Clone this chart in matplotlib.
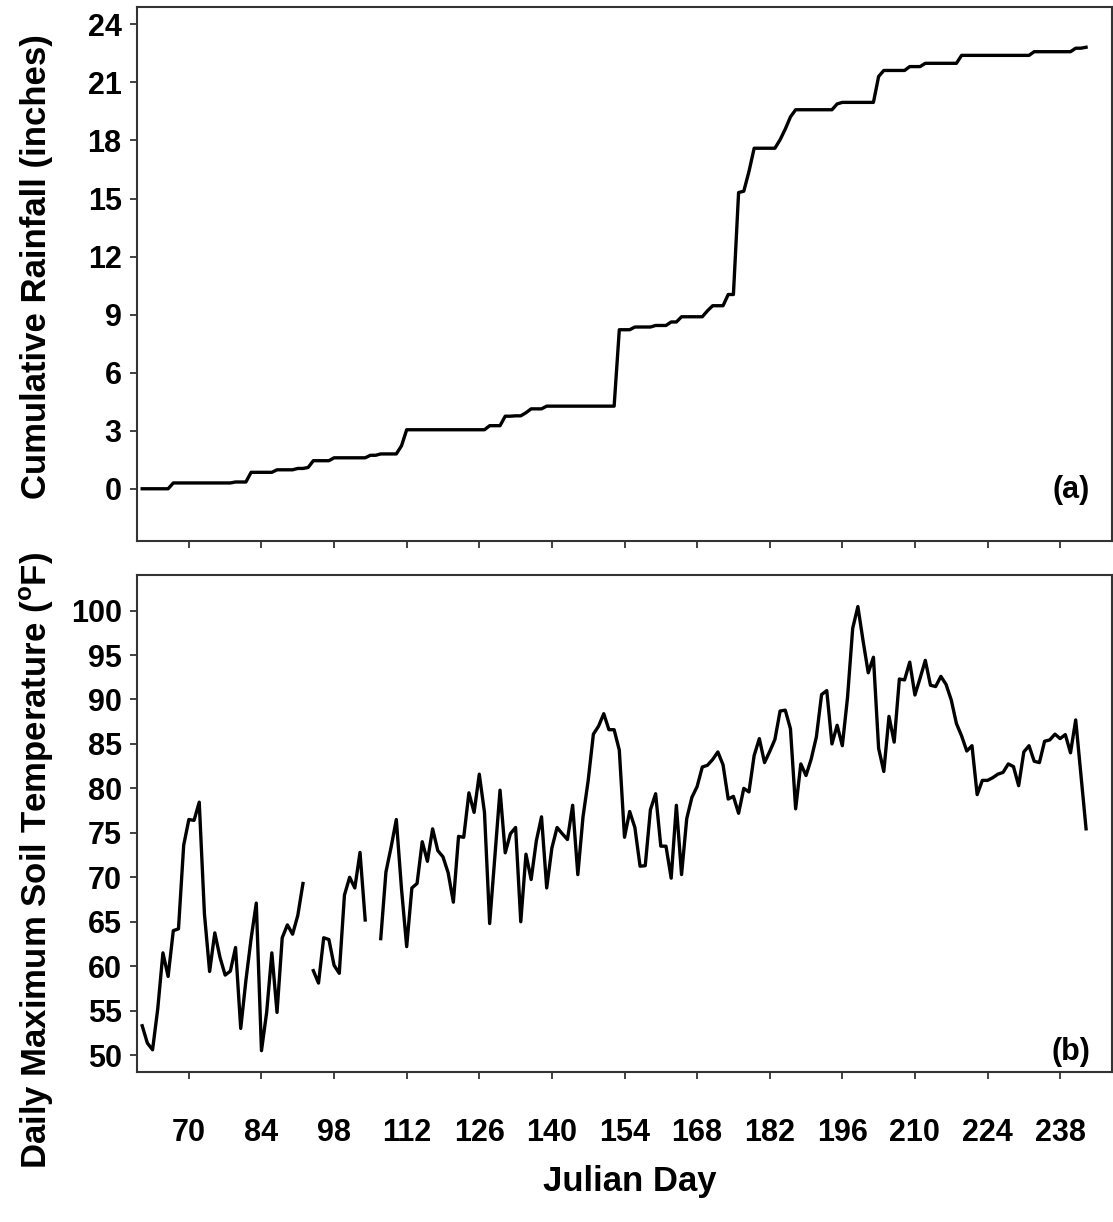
import numpy as np
import matplotlib.pyplot as plt

plt.rcParams['font.family'] = ['Liberation Sans', 'DejaVu Sans']
plt.rcParams['font.weight'] = 'bold'
plt.rcParams['mathtext.fontset'] = 'custom'
plt.rcParams['mathtext.rm'] = 'Liberation Sans:bold'
plt.rcParams['mathtext.bf'] = 'Liberation Sans:bold'

nan = np.nan
first_day = 61
last_day = 243
days = np.arange(first_day, last_day + 1)

# daily rainfall events (inches) -> cumulative curve
rain_days = [67, 79, 82, 87, 91, 93, 94, 98, 105, 107, 111, 112, 128, 131, 133,
             135, 136, 139, 153, 156, 160, 163, 165, 170, 171, 174, 176, 177,
             178, 179, 184, 185, 186, 187, 195, 196, 203, 204, 209, 212, 219,
             233, 241, 243]
rain_amounts = [0.30, 0.05, 0.50, 0.13, 0.07, 0.05, 0.35, 0.15, 0.13, 0.07, 0.42,
                0.83, 0.21, 0.49, 0.02, 0.16, 0.20, 0.14, 3.95, 0.14, 0.08, 0.18,
                0.27, 0.31, 0.26, 0.58, 5.27, 0.07, 1.02, 1.20, 0.44, 0.55, 0.63,
                0.37, 0.30, 0.08, 1.34, 0.31, 0.20, 0.17, 0.41, 0.19, 0.18, 0.05]

# daily maximum soil temperature (F), days 61..243
soil_temp = [
    53.3, 51.35, 50.6, 55.2, 61.5, 58.85, 64.0, 64.2, 73.6,            # 61-69
    76.5, 76.4, 78.45, 65.9, 59.4, 63.75, 61.0, 59.0, 59.45, 62.1,     # 70-79
    53.0, 58.4, 63.1, 67.1, 50.5, 54.8, 61.5, 54.8, 63.2, 64.65,       # 80-89
    63.6, 65.7, 69.3, nan, 59.5, 58.1, 63.2, 63.0, 60.1, 59.2,         # 90-99
    68.0, 70.0, 68.8, 72.8, 65.2, nan, nan, 63.1, 70.6, 73.4,          # 100-109
    76.5, 68.7, 62.2, 68.8, 69.3, 74.0, 71.8, 75.45, 73.0, 72.3,       # 110-119
    70.5, 67.2, 74.6, 74.5, 79.5, 77.3, 81.6, 77.3, 64.8, 72.3,        # 120-129
    79.8, 72.75, 74.9, 75.6, 65.0, 72.6, 69.75, 74.1, 76.8, 68.8,      # 130-139
    73.3, 75.6, 74.9, 74.25, 78.1, 70.3, 76.8, 80.9, 86.1, 87.0,       # 140-149
    88.4, 86.6, 86.6, 84.3, 74.5, 77.4, 75.6, 71.25, 71.3, 77.6,       # 150-159
    79.4, 73.5, 73.5, 69.9, 78.1, 70.3, 76.6, 79.0, 80.2, 82.4,        # 160-169
    82.6, 83.25, 84.1, 82.65, 78.8, 79.1, 77.2, 80.0, 79.6, 83.7,      # 170-179
    85.6, 82.9, 84.15, 85.5, 88.7, 88.8, 86.7, 77.7, 82.75, 81.45,     # 180-189
    83.3, 85.8, 90.55, 91.0, 85.0, 87.1, 84.8, 90.2, 98.0, 100.45,     # 190-199
    96.6, 93.0, 94.75, 84.5, 81.9, 88.1, 85.2, 92.3, 92.2, 94.2,       # 200-209
    90.5, 92.4, 94.4, 91.6, 91.45, 92.6, 91.7, 89.95, 87.3, 85.9,      # 210-219
    84.2, 84.8, 79.3, 80.9, 80.9, 81.2, 81.6, 81.8, 82.75, 82.45,      # 220-229
    80.3, 84.1, 84.8, 83.05, 82.9, 85.3, 85.45, 86.1, 85.6, 86.05,     # 230-239
    84.0, 87.7, 81.6, 75.45,                                           # 240-243
]

xticks = list(range(70, 239, 14))
rain_ticks = list(range(0, 25, 3))
temp_ticks = list(range(50, 101, 5))

daily_rain = np.zeros(len(days))
for d, a in zip(rain_days, rain_amounts):
    daily_rain[d - first_day] = a
cum_rain = np.cumsum(daily_rain)

W, H = 1113, 1222
fig = plt.figure(figsize=(W / 100, H / 100), dpi=100)
ax1 = fig.add_axes([137 / W, 1 - 541 / H, (1112 - 137) / W, (541 - 7) / H])
ax2 = fig.add_axes([137 / W, 1 - 1072 / H, (1112 - 137) / W, (1072 - 575) / H])

ax1.plot(days, cum_rain, color='black', lw=2.4)
ax2.plot(days, soil_temp, color='black', lw=2.4)

for ax in (ax1, ax2):
    ax.set_xlim(60, 248)
    ax.set_xticks(xticks)
    for s in ax.spines.values():
        s.set_color('#333333')
        s.set_linewidth(1.5)
    ax.tick_params(direction='out', length=5, width=1.3, color='#333333',
                   labelsize=22, pad=6)

ax1.set_ylim(-2.7, 24.9)
ax1.set_yticks(rain_ticks)
ax1.set_xticklabels([])

ax2.set_ylim(48.1, 104)
ax2.set_yticks(temp_ticks)
ax2.set_xticklabels([str(t) for t in xticks])
ax2.tick_params(axis='x', pad=28)

fig.text(37 / W, 1 - 267 / H, 'Cumulative Rainfall (inches)', rotation=90,
         ha='center', va='center', fontsize=25, weight='bold')
fig.text(37 / W, 1 - 860 / H, r'Daily Maximum Soil Temperature ($^{\mathbf{o}}$F)',
         rotation=90, ha='center', va='center', fontsize=25, weight='bold')
fig.text(630 / W, 1 - 1181 / H, 'Julian Day', ha='center', va='center',
         fontsize=25, weight='bold')
fig.text(1090 / W, 1 - 490 / H, '(a)', ha='right', va='center', fontsize=22,
         weight='bold')
fig.text(1090 / W, 1 - 1052 / H, '(b)', ha='right', va='center', fontsize=22,
         weight='bold')

fig.savefig('out.png', dpi=100)
